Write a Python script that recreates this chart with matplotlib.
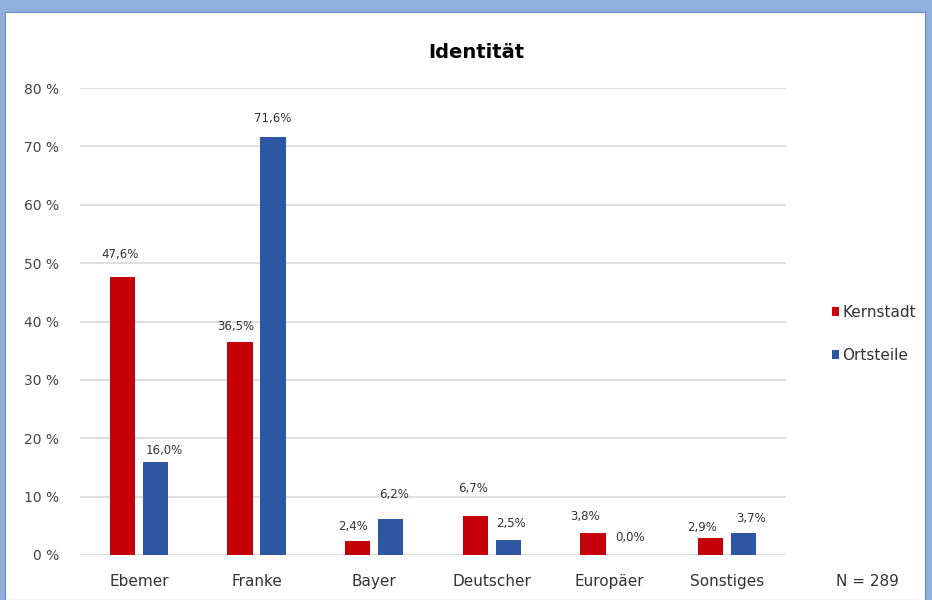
import numpy as np
import matplotlib.pyplot as plt
from matplotlib.patches import Rectangle

# Daten (Prozent)
kategorien = ["Ebemer", "Franke", "Bayer", "Deutscher", "Europäer", "Sonstiges"]
kernstadt = [47.6, 36.5, 2.4, 6.7, 3.8, 2.9]
ortsteile = [16.0, 71.6, 6.2, 2.5, 0.0, 3.7]
serien = ["Kernstadt", "Ortsteile"]
yticks = [0, 10, 20, 30, 40, 50, 60, 70, 80]
n_text = "N = 289"

# Label-Versatz in Pixel (dx, dy) relativ zur Balkenoberkante
off_rot = [(-2, 23), (-4, 15), (-5, 14), (-2, 27), (-8, 16), (-9, 11)]
off_blau = [(9, 11), (0, 19), (3, 24), (3, 17), (4, 18), (7, 15)]

rot = "#c50008"
blau = "#2d56a3"

plt.rcParams['font.family'] = ['DejaVu Sans']

fig = plt.figure(figsize=(9.32, 6.0), dpi=100)
fig.patch.set_facecolor("#8fb0dc")
# weisse Flaeche (blauer Rand oben/links/rechts)
fig.patches.append(Rectangle((5 / 932, 0), 920 / 932, 588 / 600,
                             transform=fig.transFigure, facecolor="white",
                             edgecolor="#6a8cc0", lw=0.8, zorder=-5))

ax = fig.add_axes([80 / 932, 45 / 600, 706 / 932, 467 / 600])
ax.set_facecolor("none")
ax.set_zorder(2)

x = np.arange(len(kategorien))
w = 0.215
b1 = ax.bar(x - 0.14, kernstadt, w, color=rot, label=serien[0], zorder=3)
b2 = ax.bar(x + 0.14, ortsteile, w, color=blau, label=serien[1], zorder=3)

for bars, vals, offs in [(b1, kernstadt, off_rot), (b2, ortsteile, off_blau)]:
    for r, v, (dx, dy) in zip(bars, vals, offs):
        ax.annotate(f"{v:.1f}%".replace(".", ","),
                    (r.get_x() + r.get_width() / 2, v),
                    xytext=(dx, dy), textcoords="offset pixels",
                    ha="center", va="center", fontsize=8.5, color="#333333")

ax.set_xlim(-0.5, len(kategorien) - 0.5)
ax.set_ylim(0, 80)
ax.set_yticks(yticks)
ax.set_yticklabels([f"{t} %" for t in yticks], fontsize=10, color="#444444")
ax.set_xticks(x)
ax.set_xticklabels(kategorien, fontsize=11, color="#333333")
ax.tick_params(length=0)
ax.tick_params(axis="y", pad=15)
ax.tick_params(axis="x", pad=14)
ax.grid(axis="y", color="#d9d9d9", lw=1.2, zorder=0)
for s in ax.spines.values():
    s.set_visible(False)

fig.text(476 / 932, 1 - 52 / 600, "Identität", ha="center", va="center",
         fontsize=14, fontweight="bold")

fig.legend(handles=[b1, b2], labels=serien, loc="center left",
           bbox_to_anchor=(818 / 932, 1 - 334 / 600), frameon=False,
           fontsize=11, handlelength=0.5, handleheight=0.5,
           handletextpad=0.2, labelspacing=1.8, labelcolor="#333333")

fig.text(867 / 932, 1 - 582 / 600, n_text, ha="center", va="center",
         fontsize=11, color="#333333")

fig.savefig("out.png", dpi=100)
